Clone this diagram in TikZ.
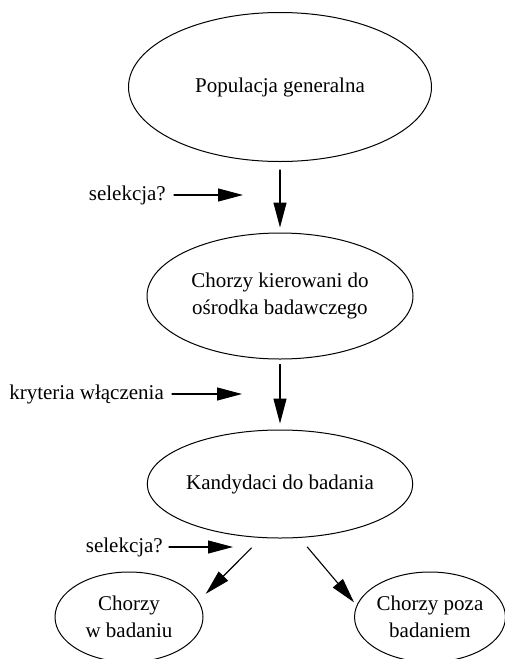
\documentclass[tikz,border=0pt]{standalone}
\usepackage{fontspec}
\setmainfont{Liberation Serif}
\usetikzlibrary{arrows.meta,shapes.geometric}
\begin{document}
\begin{tikzpicture}[x=1pt,y=1pt,line cap=round,line join=round,>={Triangle[length=25pt,width=13pt]},
		stan/.style={ellipse,draw,line width=1pt,inner sep=0pt,align=center,font=\fontsize{21}{27}\selectfont},
		opis/.style={inner sep=0pt,anchor=east,font=\fontsize{21}{27}\selectfont},
		strz/.style={->,line width=1.1pt}]
			\useasboundingbox (0,0) rectangle (505,-659);
			% stany
			\node[stan,minimum width=303pt,minimum height=149pt] (pop) at (280,-87) {Populacja generalna};
			\node[stan,minimum width=266pt,minimum height=126pt] (kier) at (280,-296) {Chorzy kierowani do\\ośrodka badawczego};
			\node[stan,minimum width=230pt,minimum height=108pt] (kand) at (280,-484) {Kandydaci do badania};
			\node[stan,minimum width=148pt,minimum height=90pt] (wbad) at (129,-617) {Chorzy\\w badaniu};
			\node[stan,minimum width=150pt,minimum height=90pt] (poza) at (430,-617) {Chorzy poza\\badaniem};
			% opisy z boku
			\node[opis] (sel1) at (166,-195) {selekcja?};
			\node[opis] (kryt) at (164,-394) {kryteria włączenia};
			\node[opis] (sel2) at (163,-547) {selekcja?};
			\coordinate (c1) at (243,-195);
			\coordinate (c2) at (242,-394);
			\coordinate (c3) at (233,-547);
			% strzalki
			\draw[strz,shorten <=8pt,shorten >=5pt] (pop.south) -- (kier.north);
			\draw[strz,shorten <=5pt,shorten >=6pt] (kier.south) -- (kand.north);
			\draw[strz,shorten <=14pt,shorten >=10pt] (kand.251) -- (wbad.13);
			\draw[strz,shorten <=12pt,shorten >=4pt] (kand.290) -- (poza.171);
			\draw[strz,shorten <=8pt] (sel1.east) -- (c1);
			\draw[strz,shorten <=8pt] (kryt.east) -- (c2);
			\draw[strz,shorten <=6pt] (sel2.east) -- (c3);
		\end{tikzpicture}
\end{document}
